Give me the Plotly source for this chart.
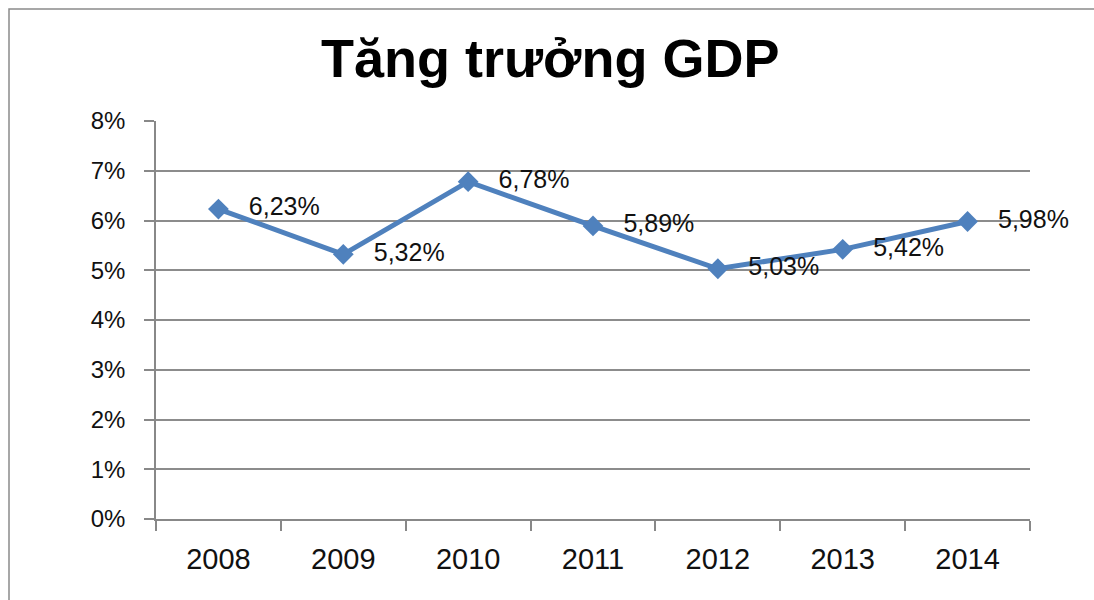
import plotly.graph_objects as go

years = ["2008", "2009", "2010", "2011", "2012", "2013", "2014"]
growth = [6.23, 5.32, 6.78, 5.89, 5.03, 5.42, 5.98]
labels = ["\u2002\u00a0" + f"{v:.2f}".replace(".", ",") + "%" for v in growth]
yticks = [0, 1, 2, 3, 4, 5, 6, 7, 8]
yticktext = [f"{v}%" for v in yticks]

W, H = 1094, 600
ml, mr, mt, mb = 156, 64, 121, 81
pw, ph = W - ml - mr, H - mt - mb
FONT = "Liberation Sans, Arial"

def px_to_paper_x(px):
    return (px - ml) / pw

def px_to_paper_y(py):
    return (H - mb - py) / ph

fig = go.Figure()
fig.add_trace(go.Scatter(
    x=years, y=growth, mode="lines+markers+text",
    text=labels, textposition="middle right",
    textfont=dict(family=FONT, size=25, color="#111111"),
    line=dict(color="#4F81BD", width=5),
    marker=dict(symbol="diamond", size=16, color="#4F81BD"),
    cliponaxis=False,
    showlegend=False,
))

fig.update_layout(
    width=W, height=H,
    margin=dict(l=ml, r=mr, t=mt, b=mb),
    paper_bgcolor="white", plot_bgcolor="white",
    title=dict(text="<b>Tăng trưởng GDP</b>", x=0.503, xanchor="center",
               y=1 - 58 / H, yanchor="middle",
               font=dict(family=FONT, size=54, color="black")),
    font=dict(family=FONT, color="#111111"),
    xaxis=dict(
        type="category", tickson="boundaries", ticks="outside", ticklen=10,
        tickcolor="#888888", tickwidth=1.5,
        showline=True, linecolor="#888888", linewidth=1.5,
        showgrid=False, tickfont=dict(family=FONT, size=29, color="#111111"),
        range=[-0.5, 6.5], ticklabelstandoff=13,
    ),
    yaxis=dict(
        range=[0, 8], tickvals=yticks, ticktext=yticktext,
        ticks="outside", ticklen=10, tickcolor="#888888", tickwidth=1.5,
        showline=True, linecolor="#888888", linewidth=1.5,
        showgrid=True, gridcolor="#8c8c8c", gridwidth=1.5,
        zeroline=False, tickfont=dict(family=FONT, size=24, color="#111111"),
        ticklabelstandoff=14,
    ),
)

fig.add_shape(type="rect", xref="paper", yref="paper",
              x0=px_to_paper_x(9), x1=px_to_paper_x(1110),
              y0=px_to_paper_y(615), y1=px_to_paper_y(9),
              line=dict(color="#8a8a8a", width=1.5), layer="below")

fig.write_html("out.html", config={"displayModeBar": False},
               post_script="document.body.style.margin='0';document.body.style.overflow='hidden';")
